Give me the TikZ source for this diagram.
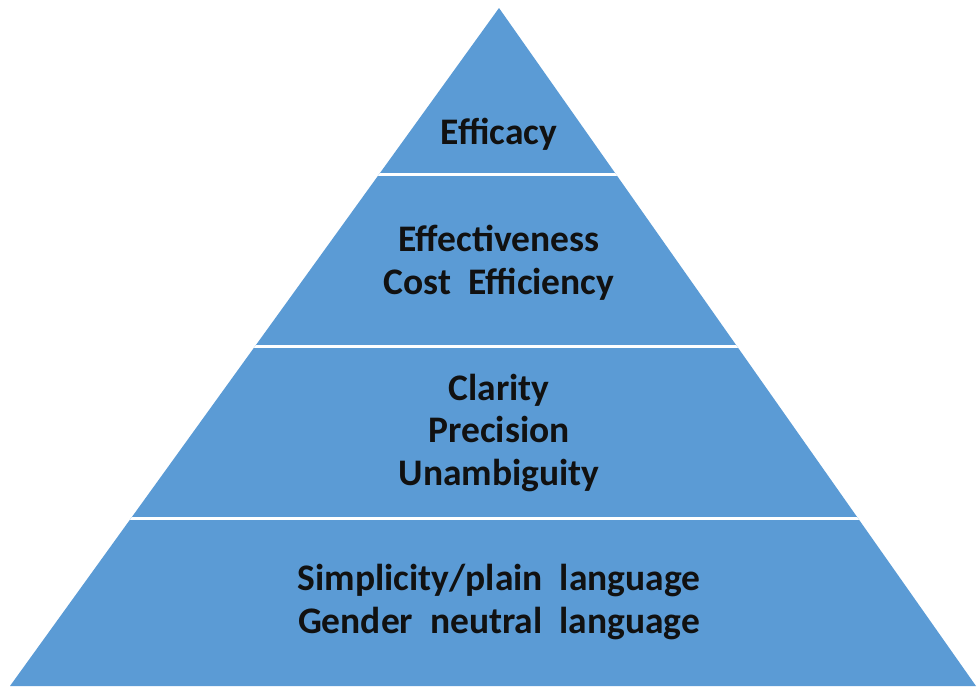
\documentclass[tikz,border=0pt]{standalone}
\usepackage{fontspec}
\setmainfont{Carlito}
\definecolor{pyr}{HTML}{5B9BD5}
\definecolor{txt}{HTML}{111111}
\begin{document}
\begin{tikzpicture}[x=1pt,y=-1pt,
  lbl/.style={font=\fontsize{37.5}{42.5}\selectfont\bfseries, text=txt, align=center, inner sep=0pt},
  sep/.style={white, line width=3pt}]
\useasboundingbox (0,0) rectangle (977,686);
\coordinate (apex) at (499,8);
\coordinate (bl) at (10,686);
\coordinate (br) at (976,686);
\fill[pyr] (apex) -- (br) -- (bl) -- cycle;
\begin{scope}
\clip (apex) -- (br) -- (bl) -- cycle;
\draw[sep] (0,174) -- (977,174);
\draw[sep] (0,346) -- (977,346);
\draw[sep] (0,518) -- (977,518);
\end{scope}
\node[lbl] (t1) at (499,134) {Efficacy};
\node[lbl] (t2) at (499,263) {Effectiveness\\Cost~~Efficiency};
\node[lbl] (t3) at (499,433) {Clarity\\Precision\\Unambiguity};
\node[lbl] (t4) at (499,602) {Simplicity/plain~~language\\Gender~~neutral~~language};
\end{tikzpicture}
\end{document}
